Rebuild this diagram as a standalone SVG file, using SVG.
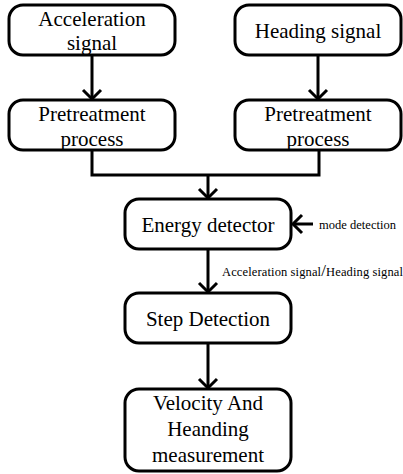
<svg xmlns="http://www.w3.org/2000/svg" width="403" height="474" viewBox="0 0 403 474">
<defs>
<style>
.box{fill:#fff;stroke:#000;stroke-width:3}
.t{font-family:"Liberation Serif","Times New Roman",serif;font-size:21px;text-anchor:middle;fill:#000}
.s{font-family:"Liberation Serif","Times New Roman",serif;font-size:12.5px;fill:#000}
.c{fill:none;stroke:#000;stroke-width:3}
</style>
<marker id="ah" markerUnits="userSpaceOnUse" markerWidth="24" markerHeight="24" viewBox="-12 -12 24 24" refX="0" refY="0" orient="auto">
<path d="M-9,-9 L0,0 L-9,9" fill="none" stroke="#000" stroke-width="3"/>
</marker>
</defs>
<rect width="403" height="474" fill="#fff"/>
<g id="connectors">
<line class="c" x1="92" y1="55" x2="92" y2="99" marker-end="url(#ah)"/>
<line class="c" x1="318" y1="55" x2="318" y2="99" marker-end="url(#ah)"/>
<polyline class="c" points="92,150 92,175 319,175 319,150"/>
<line class="c" x1="208" y1="175" x2="208" y2="198" marker-end="url(#ah)"/>
<line class="c" x1="313" y1="224" x2="293" y2="224" marker-end="url(#ah)"/>
<line class="c" x1="208" y1="249" x2="208" y2="292" marker-end="url(#ah)"/>
<line class="c" x1="208" y1="343" x2="208" y2="388" marker-end="url(#ah)"/>
<text class="s" x="319" y="229" textLength="77" lengthAdjust="spacing">mode detection</text>
<text class="s" x="222" y="276" textLength="181" lengthAdjust="spacing">Acceleration signal<tspan font-size="17">/</tspan>Heading signal</text>
</g>
<g id="acc">
<rect class="box" x="9" y="5" width="166" height="50" rx="14"/>
<text class="t" x="92" y="26">Acceleration</text>
<text class="t" x="92" y="50">signal</text>
</g>
<g id="heading">
<rect class="box" x="235" y="5" width="166" height="50" rx="14"/>
<text class="t" x="318" y="38">Heading signal</text>
</g>
<g id="pre1">
<rect class="box" x="9" y="100" width="166" height="50" rx="14"/>
<text class="t" x="92" y="121">Pretreatment</text>
<text class="t" x="92" y="146">process</text>
</g>
<g id="pre2">
<rect class="box" x="235" y="100" width="166" height="50" rx="14"/>
<text class="t" x="318" y="121">Pretreatment</text>
<text class="t" x="318" y="146">process</text>
</g>
<g id="energy">
<rect class="box" x="125" y="199" width="166" height="50" rx="14"/>
<text class="t" x="208" y="232">Energy detector</text>
</g>
<g id="step">
<rect class="box" x="125" y="293" width="166" height="50" rx="14"/>
<text class="t" x="208" y="326">Step Detection</text>
</g>
<g id="velocity">
<rect class="box" x="125" y="389" width="166" height="82" rx="14"/>
<text class="t" x="208" y="410">Velocity And</text>
<text class="t" x="208" y="436">Heanding</text>
<text class="t" x="208" y="462">measurement</text>
</g>
</svg>
